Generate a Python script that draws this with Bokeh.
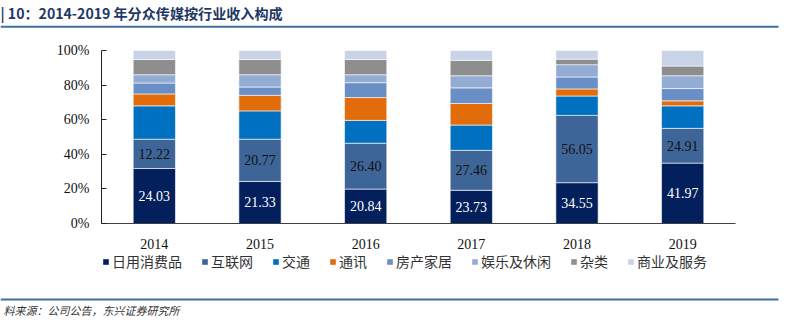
from bokeh.plotting import figure
from bokeh.layouts import column
from bokeh.models import (FactorRange, Range1d, FixedTicker, PrintfTickFormatter,
                          Legend, LegendItem, ColumnDataSource)
from bokeh.embed import file_html
from bokeh.resources import INLINE
from bokeh.core.properties import value

# ---------------- data ----------------
years = ["2014", "2015", "2016", "2017", "2018", "2019"]
categories = ["日用消费品", "互联网", "交通", "通讯", "房产家居", "娱乐及休闲", "杂类", "商业及服务"]

# share of revenue (%) per industry
consumer = [31.8, 24.3, 19.9, 19.2, 23.6, 34.9]
internet = [16.9, 24.4, 26.5, 23.1, 38.9, 20.1]
transport = [19.3, 16.4, 13.2, 14.6, 11.2, 13.0]
telecom = [6.9, 9.0, 13.2, 12.5, 4.1, 2.9]
realestate = [6.3, 4.8, 8.6, 9.0, 6.9, 7.1]
entertainment = [4.8, 7.1, 4.6, 7.0, 7.1, 7.4]
misc = [8.8, 8.8, 8.8, 8.9, 3.2, 5.6]
business = [5.2, 5.2, 5.2, 5.7, 5.0, 9.0]

# labelled revenue values (亿元)
consumer_value = [24.03, 21.33, 20.84, 23.73, 34.55, 41.97]
internet_value = [12.22, 20.77, 26.40, 27.46, 56.05, 24.91]

y_ticks = [0, 20, 40, 60, 80, 100]
title_text = "| 10：2014-2019 年分众传媒按行业收入构成"
source_text = "料来源：公司公告，东兴证券研究所"

colors = ["#03205C", "#3E6597", "#0070C0", "#E36C0A", "#6A8EC6", "#93ACD3", "#8E8E8E", "#C9D3E7"]
keys = ["consumer", "internet", "transport", "telecom", "realestate", "entertainment", "misc", "business"]

src = ColumnDataSource(dict(years=years, consumer=consumer, internet=internet, transport=transport,
                            telecom=telecom, realestate=realestate, entertainment=entertainment,
                            misc=misc, business=business))

lab_src = ColumnDataSource(dict(
    x=years,
    y1=[c / 2 for c in consumer],
    t1=["%.2f" % v for v in consumer_value],
    y2=[c + i / 2 for c, i in zip(consumer, internet)],
    t2=["%.2f" % v for v in internet_value],
))

RULE = "#3F6EA0"
CJK = "Noto Sans CJK SC"
serif = "Liberation Serif"


def strip(h):
    f = figure(width=790, height=h, x_range=Range1d(0, 790), y_range=Range1d(h, 0),
               x_axis_type=None, y_axis_type=None, output_backend="svg", toolbar_location=None,
               title=None, min_border=0, outline_line_color=None, frame_align=False,
               background_fill_color="white", border_fill_color="white")
    return f


# ---------------- header ----------------
head = strip(30)
head.text(x=[0], y=[12], text=[title_text], text_font=value(CJK), text_font_style="bold",
          text_font_size="14.1px", text_color="#1F3864", text_baseline="middle")
head.segment(x0=[0], y0=[26.3], x1=[778], y1=[26.3], line_color=RULE, line_width=2)

# ---------------- main chart ----------------
p = figure(x_range=FactorRange(*years), y_range=Range1d(0, 100),
           width=790, height=221, output_backend="svg", toolbar_location=None, title=None,
           min_border_left=101, min_border_right=55, min_border_top=20, min_border_bottom=27,
           frame_align=False,
           background_fill_color="white", border_fill_color="white")

p.vbar_stack(keys, x="years", width=0.4, source=src,
             fill_color=colors, line_color="white", line_width=0.6)

p.text(x="x", y="y1", text="t1", source=lab_src, text_font=value(serif), text_font_size="14px",
       text_color="white", text_align="center", text_baseline="middle")
p.text(x="x", y="y2", text="t2", source=lab_src, text_font=value(serif), text_font_size="14px",
       text_color="#111111", text_align="center", text_baseline="middle")

p.xgrid.grid_line_color = None
p.ygrid.grid_line_color = None
p.outline_line_color = None

xa = p.xaxis[0]
xa.major_tick_line_color = None
xa.minor_tick_line_color = None
xa.axis_line_color = "#404040"
xa.axis_line_width = 1.2
xa.major_label_text_font = serif
xa.major_label_text_font_size = "14px"
xa.major_label_text_color = "#111111"
xa.major_label_standoff = 9

ya = p.yaxis[0]
ya.ticker = FixedTicker(ticks=y_ticks)
ya.formatter = PrintfTickFormatter(format="%d%%")
ya.major_tick_in = 5
ya.major_tick_out = 0
ya.minor_tick_line_color = None
ya.axis_line_color = "#222222"
ya.major_tick_line_color = "#222222"
ya.major_label_text_font = serif
ya.major_label_text_font_size = "14px"
ya.major_label_text_color = "#111111"
ya.major_label_standoff = 12

# ---------------- legend strip ----------------
# zero-size placeholder glyphs: they only carry the swatch colours for the legend
leg = strip(20)
leg_renderers = [leg.vbar(x=[0], top=[0], bottom=[0], width=0, fill_color=c, line_color=None)
                 for c in colors]
legend = Legend(items=[LegendItem(label=c, renderers=[r]) for c, r in zip(categories, leg_renderers)],
                orientation="horizontal", location=(102, 0),
                glyph_width=7, glyph_height=7, label_standoff=3, spacing=19,
                padding=0, margin=0, border_line_color=None, background_fill_alpha=0,
                label_text_font=CJK, label_text_font_size="14px",
                label_text_color="#333333", label_height=16)
leg.add_layout(legend, "center")

# ---------------- footer ----------------
foot = strip(53)
foot.segment(x0=[0], y0=[28], x1=[778], y1=[28], line_color=RULE, line_width=2)
foot.text(x=[3], y=[38], text=[source_text], text_font=value(CJK), text_font_style="italic",
          text_font_size="11px", text_color="#333333", text_baseline="middle")

layout = column(head, p, leg, foot, spacing=0)
open("out.html", "w").write(file_html(layout, INLINE))
